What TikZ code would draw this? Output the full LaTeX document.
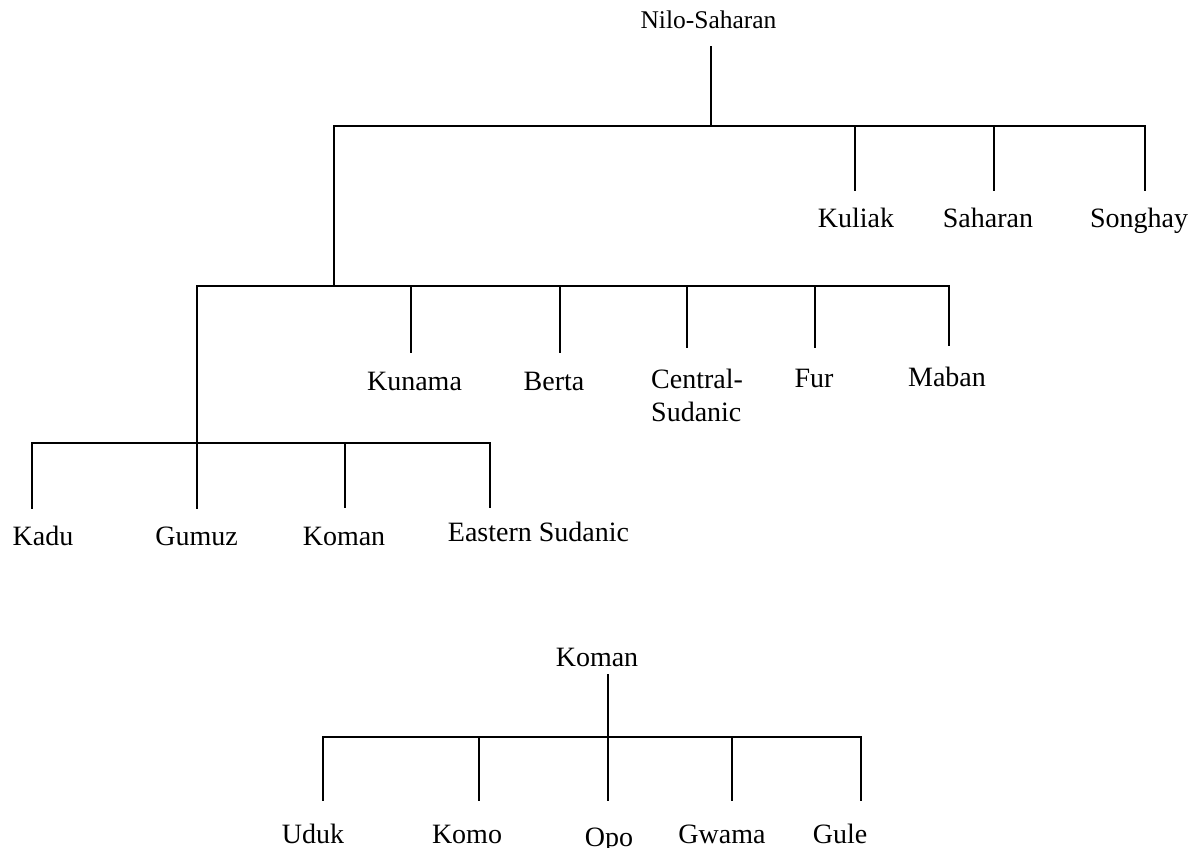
\documentclass[tikz,border=0pt]{standalone}
\usepackage{fontspec}
\setmainfont{Liberation Serif}
\tikzset{
  lab/.style={font=\fontsize{28}{34}\selectfont, inner sep=0pt, anchor=base},
  toplab/.style={font=\fontsize{25.5}{30}\selectfont, inner sep=0pt, anchor=base},
  edge/.style={line width=1.8pt, line cap=rect}
}
\begin{document}
\begin{tikzpicture}[x=1pt,y=-1pt]
\useasboundingbox (0,0) rectangle (1195,847);
% ---------- labels ----------
\node[toplab] (ns) at (708.5,28) {Nilo-Saharan};
\node[lab] (kuliak) at (856,227) {Kuliak};
\node[lab] (saharan) at (988,227) {Saharan};
\node[lab] (songhay) at (1139,227) {Songhay};
\node[lab] (kunama) at (414.5,390) {Kunama};
\node[lab] (berta) at (554,390) {Berta};
\node[lab, anchor=base west, align=left] (central) at (651,421) {Central-\\[-1pt]Sudanic};
\node[lab] (fur) at (814,387) {Fur};
\node[lab] (maban) at (947,386) {Maban};
\node[lab] (kadu) at (43,545) {Kadu};
\node[lab] (gumuz) at (196.5,545) {Gumuz};
\node[lab] (koman) at (344,545) {Koman};
\node[lab] (esud) at (538.5,541) {Eastern Sudanic};
\node[lab] (koman2) at (597,666) {Koman};
\node[lab] (uduk) at (313,843) {Uduk};
\node[lab] (komo) at (467,843) {Komo};
\node[lab] (opo) at (609,846) {Opo};
\node[lab] (gwama) at (722,843) {Gwama};
\node[lab] (gule) at (840,843) {Gule};
% ---------- junction coordinates ----------
\coordinate (nsT) at (711,47);
\coordinate (nsJ) at (711,126);
\coordinate (h1L) at (334,126);
\coordinate (h1R) at (1145,126);
\coordinate (kuliakJ) at (855,126);  \coordinate (kuliakE) at (855,190);
\coordinate (saharanJ) at (994,126); \coordinate (saharanE) at (994,190);
\coordinate (songhayE) at (1145,190);
\coordinate (h2J) at (334,286);
\coordinate (h2L) at (197,286);
\coordinate (h2R) at (949,286);
\coordinate (kunamaJ) at (411,286); \coordinate (kunamaE) at (411,352);
\coordinate (bertaJ) at (560,286);  \coordinate (bertaE) at (560,352);
\coordinate (centralJ) at (687,286); \coordinate (centralE) at (687,347);
\coordinate (furJ) at (815,286);    \coordinate (furE) at (815,347);
\coordinate (mabanE) at (949,345);
\coordinate (h3J) at (197,443);
\coordinate (h3L) at (32,443);
\coordinate (h3R) at (490,443);
\coordinate (gumuzE) at (197,508);
\coordinate (kaduE) at (32,508);
\coordinate (komanJ) at (345,443); \coordinate (komanE) at (345,507);
\coordinate (esudE) at (490,507);
\coordinate (k2T) at (608,675);
\coordinate (h4J) at (608,737);
\coordinate (h4L) at (323,737);
\coordinate (h4R) at (861,737);
\coordinate (udukE) at (323,800);
\coordinate (komoJ) at (479,737); \coordinate (komoE) at (479,800);
\coordinate (opoE) at (608,800);
\coordinate (gwamaJ) at (732,737); \coordinate (gwamaE) at (732,800);
\coordinate (guleE) at (861,800);
% ---------- connectors: top tree ----------
\draw[edge] (nsT) -- (nsJ);
\draw[edge] (h1L) -- (h1R);
\draw[edge] (kuliakJ) -- (kuliakE);
\draw[edge] (saharanJ) -- (saharanE);
\draw[edge] (h1R) -- (songhayE);
\draw[edge] (h1L) -- (h2J);
\draw[edge] (h2L) -- (h2R);
\draw[edge] (kunamaJ) -- (kunamaE);
\draw[edge] (bertaJ) -- (bertaE);
\draw[edge] (centralJ) -- (centralE);
\draw[edge] (furJ) -- (furE);
\draw[edge] (h2R) -- (mabanE);
\draw[edge] (h2L) -- (h3J) -- (gumuzE);
\draw[edge] (h3L) -- (h3R);
\draw[edge] (h3L) -- (kaduE);
\draw[edge] (komanJ) -- (komanE);
\draw[edge] (h3R) -- (esudE);
% ---------- connectors: Koman tree ----------
\draw[edge] (k2T) -- (h4J) -- (opoE);
\draw[edge] (h4L) -- (h4R);
\draw[edge] (h4L) -- (udukE);
\draw[edge] (komoJ) -- (komoE);
\draw[edge] (gwamaJ) -- (gwamaE);
\draw[edge] (h4R) -- (guleE);
\end{tikzpicture}
\end{document}
